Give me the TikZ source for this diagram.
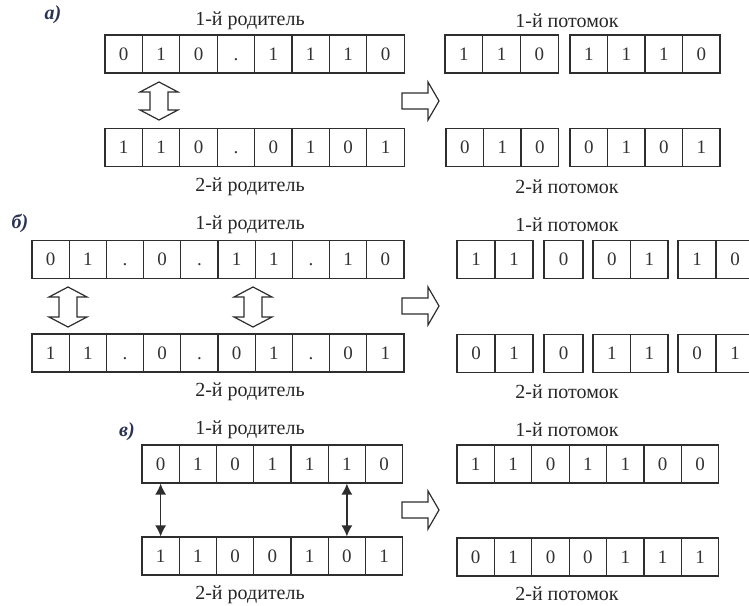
\documentclass[tikz,border=0pt]{standalone}
\usepackage{fontspec}
\setmainfont{Liberation Serif}
\usetikzlibrary{arrows.meta}
\definecolor{ln}{HTML}{2E2E2E}
\definecolor{lbl}{HTML}{2A3352}
\tikzset{
  cell/.style={draw=ln, line width=1.1pt, minimum height=38pt, inner sep=0pt,
    text height=12.8pt, text depth=0pt,
    font=\fontsize{19}{19}\selectfont, text=black!80},
  captxt/.style={font=\fontsize{20}{20}\selectfont, text=black!85},
  tagtxt/.style={font=\fontsize{20}{20}\selectfont\bfseries\itshape, text=lbl},
  hollow/.style={draw=ln, line width=1.2pt, fill=white, line join=miter},
  thinarrow/.style={draw=ln, line width=1.4pt, {Latex[length=11pt,width=11pt]}-{Latex[length=11pt,width=11pt]}}
}
% name, x0, yc, cell width, list
\newcommand\cellrow[5]{%
  \foreach \v [count=\i] in {#5} {
    \node[cell, minimum width=#4pt] (#1-\i) at ({#2+(\i-0.5)*#4}, #3) {\v};
  }%
}
% vertical hollow double arrow: cx, ytop, ybot
\newcommand\vdarrow[3]{%
  \draw[hollow] (#1,#2) -- (#1+19,#2+10) -- (#1+9,#2+10) -- (#1+9,#3-10)
    -- (#1+19,#3-10) -- (#1,#3) -- (#1-19,#3-10) -- (#1-9,#3-10)
    -- (#1-9,#2+10) -- (#1-19,#2+10) -- cycle;%
}
% right hollow arrow: yc
\newcommand\rtarrow[1]{%
  \draw[hollow] (402,#1-8) -- (428,#1-8) -- (428,#1-19) -- (439,#1)
    -- (428,#1+19) -- (428,#1+8) -- (402,#1+8) -- cycle;%
}
\begin{document}
\begin{tikzpicture}[x=1pt,y=-1pt]
\useasboundingbox (0,0) rectangle (749,605);
\clip (0,0) rectangle (749,605);

% ---------- a)
\node[tagtxt] (ta) at (53,15) {а)};
\node[captxt] (ap1l) at (250,21) {1-й родитель};
\node[captxt] (ap2l) at (250,187) {2-й родитель};
\node[captxt] (ao1l) at (567,21) {1-й потомок};
\node[captxt] (ao2l) at (567,187) {2-й потомок};
\cellrow{ap1}{105}{54}{37.4}{0,1,0,.,1,1,1,0}
\cellrow{ap2}{105}{147.5}{37.4}{1,1,0,.,0,1,0,1}
\cellrow{ao1a}{445}{54}{37.7}{1,1,0}
\cellrow{ao1b}{570}{54}{37.5}{1,1,1,0}
\cellrow{ao2a}{446}{147.5}{37.5}{0,1,0}
\cellrow{ao2b}{570}{147.5}{37.5}{0,1,0,1}
\vdarrow{159}{82}{120}
\rtarrow{101}

% ---------- б)
\node[tagtxt] (tb) at (20,223) {б)};
\node[captxt] (bp1l) at (250,225) {1-й родитель};
\node[captxt] (bp2l) at (250,392) {2-й родитель};
\node[captxt] (bo1l) at (567,225) {1-й потомок};
\node[captxt] (bo2l) at (567,392) {2-й потомок};
\cellrow{bp1}{32}{259.5}{37.2}{0,1,.,0,.,1,1,.,1,0}
\cellrow{bp2}{32}{353}{37.2}{1,1,.,0,.,0,1,.,0,1}
\cellrow{bo1a}{457}{259.5}{38}{1,1}
\cellrow{bo1b}{544}{259.5}{39}{0}
\cellrow{bo1c}{593}{259.5}{37.5}{0,1}
\cellrow{bo1d}{678}{259.5}{38}{1,0}
\cellrow{bo2a}{457}{353.5}{38}{0,1}
\cellrow{bo2b}{544}{353.5}{39}{0}
\cellrow{bo2c}{593}{353.5}{37.5}{1,1}
\cellrow{bo2d}{678}{353.5}{38}{0,1}
\vdarrow{68}{287}{327}
\vdarrow{253}{287}{327}
\rtarrow{306}

% ---------- в)
\node[tagtxt] (tc) at (127,432) {в)};
\node[captxt] (cp1l) at (250,430) {1-й родитель};
\node[captxt] (cp2l) at (250,595) {2-й родитель};
\node[captxt] (co1l) at (567,430) {1-й потомок};
\node[captxt] (co2l) at (567,594) {2-й потомок};
\cellrow{cp1}{142}{464}{37.25}{0,1,0,1,1,1,0}
\cellrow{cp2}{142}{556}{37.25}{1,1,0,0,1,0,1}
\cellrow{co1}{457}{464}{37.4}{1,1,0,1,1,0,0}
\cellrow{co2}{457}{557}{37.4}{0,1,0,0,1,1,1}
\draw[thinarrow] (cp1-1.south) -- (cp2-1.north);
\draw[thinarrow] (cp1-6.south) -- (cp2-6.north);
\rtarrow{510}
\end{tikzpicture}
\end{document}
